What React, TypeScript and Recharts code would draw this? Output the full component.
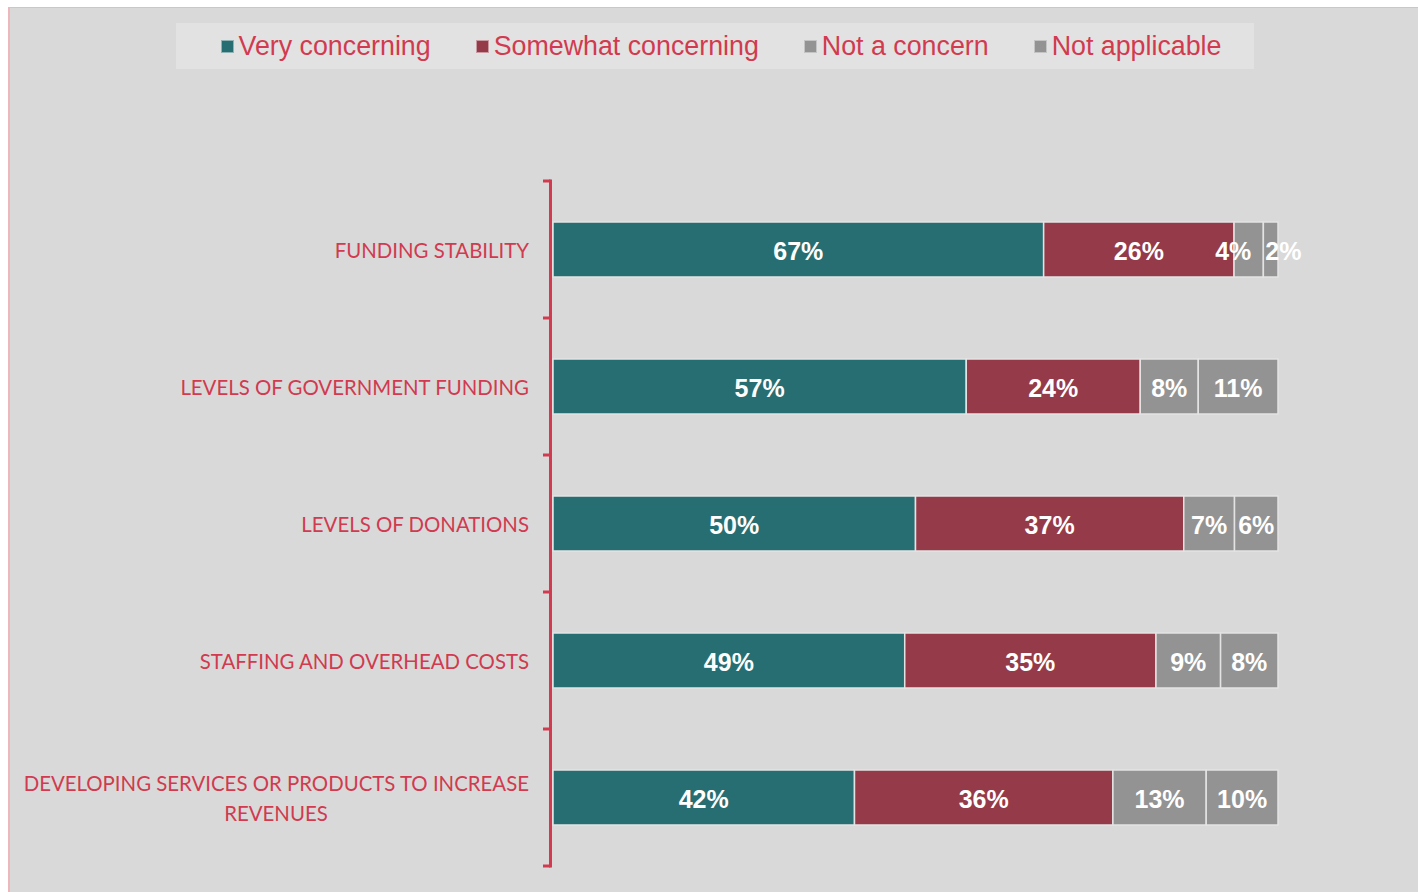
import React from 'react';
import { BarChart, Bar, XAxis, YAxis, Legend, LabelList } from 'recharts';

const categories = [
  'FUNDING STABILITY',
  'LEVELS OF GOVERNMENT FUNDING',
  'LEVELS OF DONATIONS',
  'STAFFING AND OVERHEAD COSTS',
  'DEVELOPING SERVICES OR PRODUCTS TO INCREASE\nREVENUES',
];
const veryConcerning = [67, 57, 50, 49, 42];
const somewhatConcerning = [26, 24, 37, 35, 36];
const notAConcern = [4, 8, 7, 9, 13];
const notApplicable = [2, 11, 6, 8, 10];

const seriesNames = ['Very concerning', 'Somewhat concerning', 'Not a concern', 'Not applicable'];
const seriesKeys = ['vc', 'sc', 'nc', 'na'];
const seriesColors = ['#276E72', '#953A48', '#939393', '#939393'];
const seriesBorders = ['#8FB3B5', '#C99AA1', '#C4C4C4', '#C4C4C4'];

const data = categories.map((c, i) => ({
  name: c,
  vc: veryConcerning[i],
  sc: somewhatConcerning[i],
  nc: notAConcern[i],
  na: notApplicable[i],
}));

const W = 1409;
const H = 884;
const MARGIN = { top: 173, right: 140, bottom: 26, left: 0 };
const AXIS_W = 544;
const PLOT_H = H - MARGIN.top - MARGIN.bottom;
const RED = '#D13A4F';
const CAT_FONT = 'Lato, "Open Sans", sans-serif';
const CAT_SIZE = 20.4;

let measureCtx: CanvasRenderingContext2D | null = null;
function measure(text: string, font: string) {
  if (!measureCtx) {
    const c = document.createElement('canvas');
    measureCtx = c.getContext('2d');
  }
  if (!measureCtx) return text.length * 10;
  measureCtx.font = font;
  return measureCtx.measureText(text).width;
}

const CategoryTick = (props: any) => {
  const { x, y, payload, index } = props;
  const band = PLOT_H / categories.length;
  const lines = String(payload.value).split('\n');
  const right = x - 24;
  const lh = 30;
  const y0 = y - ((lines.length - 1) * lh) / 2;
  const w0 = measure(lines[0], `${CAT_SIZE}px Lato`);
  const ax = x - 2.5;
  return (
    <g>
      <line x1={ax} x2={ax} y1={y - band / 2 - 1.5} y2={y + band / 2 + 1.5} stroke={RED} strokeWidth={3} />
      <line x1={x - 10} x2={ax} y1={y - band / 2} y2={y - band / 2} stroke={RED} strokeWidth={3} />
      {index === categories.length - 1 && (
        <line x1={x - 10} x2={ax} y1={y + band / 2} y2={y + band / 2} stroke={RED} strokeWidth={3} />
      )}
      {lines.map((ln, i) => (
        <text
          key={i}
          x={i === 0 ? right : right - w0 / 2}
          y={y0 + i * lh}
          textAnchor={i === 0 ? 'end' : 'middle'}
          dominantBaseline="central"
          fill={RED}
          fontFamily={CAT_FONT}
          fontSize={CAT_SIZE}
        >
          {ln}
        </text>
      ))}
    </g>
  );
};

const makeLabel = (seriesIndex: number) => (props: any) => {
  const { x, y, width, height, value } = props;
  const narrow = width < 32;
  let tx = x + width / 2;
  let anchor: 'middle' | 'start' | 'end' = 'middle';
  if (narrow) {
    if (seriesIndex === seriesKeys.length - 1) {
      tx = x + 2;
      anchor = 'start';
    } else {
      tx = x + width - 12;
      anchor = 'end';
    }
  }
  return (
    <text
      x={tx}
      y={y + height / 2 + 1}
      textAnchor={anchor}
      dominantBaseline="central"
      fill="#FFFFFF"
      fontFamily='"Liberation Sans", Arial, sans-serif'
      fontWeight="bold"
      fontSize={25}
    >
      {`${value}%`}
    </text>
  );
};

const LegendContent = () => (
  <div
    style={{
      width: 1078,
      height: 46,
      background: '#E2E2E2',
      display: 'flex',
      alignItems: 'center',
      justifyContent: 'center',
      gap: 45,
      paddingLeft: 12,
      boxSizing: 'border-box',
      fontFamily: '"Liberation Sans", Arial, sans-serif',
      fontSize: 26.8,
      color: RED,
    }}
  >
    {seriesNames.map((n, i) => (
      <div key={n} style={{ display: 'flex', alignItems: 'center' }}>
        <span
          style={{
            display: 'inline-block',
            width: 11,
            height: 11,
            background: seriesColors[i],
            border: `1px solid ${seriesBorders[i]}`,
            marginRight: 5,
          }}
        />
        <span>{n}</span>
      </div>
    ))}
  </div>
);

export default function App() {
  return (
    <div
      style={{
        position: 'fixed',
        left: 8,
        top: 7,
        width: W + 1,
        height: H + 1,
        background: '#D9D9D9',
        borderLeft: '2px solid #EDB7BC',
        borderTop: '1px solid #EDB7BC',
        boxSizing: 'border-box',
        overflow: 'hidden',
      }}
    >
      <div style={{ marginLeft: -1 }}>
        <BarChart
          width={W}
          height={H}
          data={data}
          layout="vertical"
          stackOffset="expand"
          margin={MARGIN}
          barSize={55}
        >
          <XAxis type="number" hide domain={[0, 1]} />
          <YAxis
            type="category"
            dataKey="name"
            width={AXIS_W}
            axisLine={false}
            tickLine={false}
            tickSize={0}
            tickMargin={0}
            tick={<CategoryTick />}
            interval={0}
          />
          <Legend
            layout="horizontal"
            verticalAlign="middle"
            align="center"
            content={<LegendContent />}
            wrapperStyle={{ top: 15, left: 167, width: 1078, height: 46 }}
          />
          {seriesKeys.map((k, i) => (
            <Bar
              key={k}
              dataKey={k}
              name={seriesNames[i]}
              stackId="a"
              fill={seriesColors[i]}
              stroke="#E3E3E3"
              strokeWidth={1.5}
              isAnimationActive={false}
            >
              <LabelList dataKey={k} content={makeLabel(i)} />
            </Bar>
          ))}
        </BarChart>
      </div>
    </div>
  );
}
